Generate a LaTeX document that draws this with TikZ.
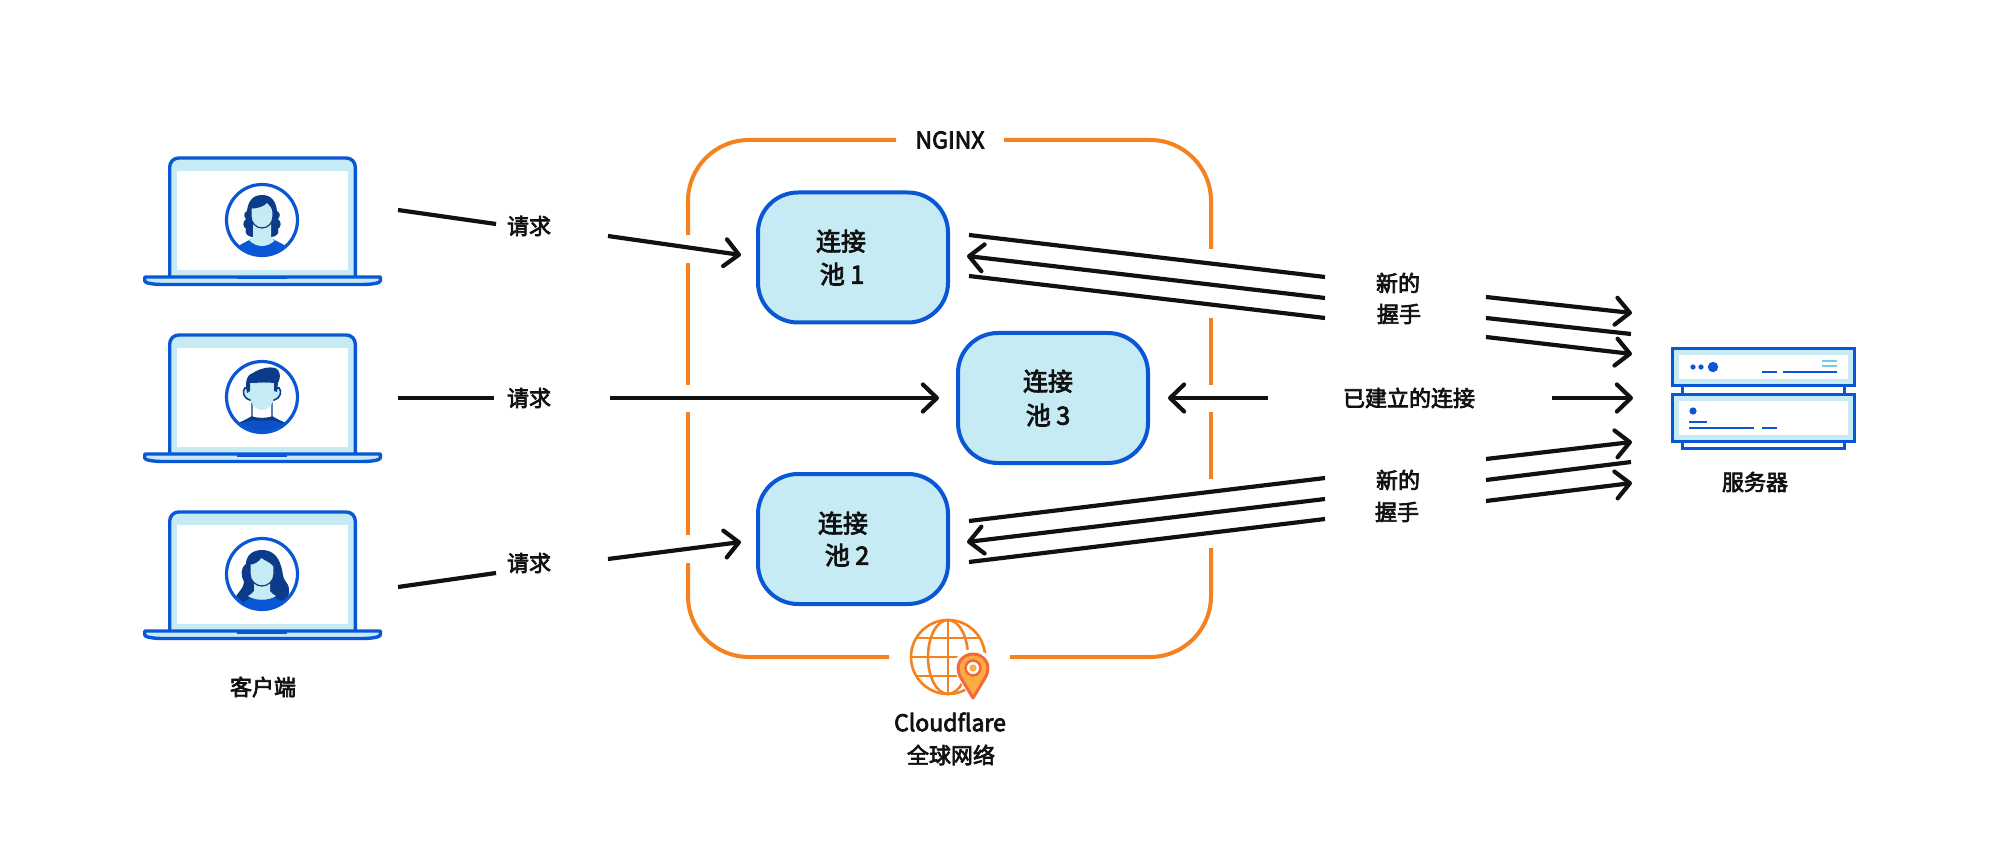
\documentclass[tikz,border=0pt]{standalone}
\usepackage{fontspec}
\setmainfont[FakeBold=3.2]{Noto Sans CJK SC}
\usetikzlibrary{arrows.meta}
\definecolor{cfblue}{HTML}{0A57D6}
\definecolor{cflight}{HTML}{C6EBF5}
\definecolor{cforange}{HTML}{F6821F}
\definecolor{cfpin}{HTML}{FBAD41}
\definecolor{cfpinline}{HTML}{F4693B}
\definecolor{cfhair}{HTML}{0C3B8A}
\definecolor{cfsky}{HTML}{6ECCE8}
\definecolor{ink}{HTML}{111111}
\tikzset{
  wire/.style={draw=ink,line width=4.2pt},
  arrowwire/.style={wire,-{Straight Barb[length=14pt,width=27pt,round]}},
  pool/.style={draw=cfblue,fill=cflight,line width=4pt,rounded corners=40pt,minimum width=190pt,minimum height=130pt,inner sep=0pt,align=center,font=\fontsize{25pt}{35pt}\selectfont,text=ink},
  lbl/.style={font=\fontsize{22pt}{32pt}\selectfont,text=ink,align=center,inner sep=0pt},
  nginxline/.style={draw=cforange,line width=4pt,rounded corners=61pt},
  frame/.style={draw=cfblue,line width=3.4pt,line join=round},
  srv/.style={draw=cfblue,line width=3.4pt,fill=cflight},
  srvline/.style={draw=cfblue,line width=2.6pt},
  srvsky/.style={draw=cfsky,line width=2.6pt},
  globe/.style={draw=cforange,line width=2.6pt},
}
\newcommand{\laptopframe}{%
  \draw[frame,fill=cflight,rounded corners=9pt] (169.7,278) -- (169.7,158) -- (355.3,158) -- (355.3,278);
  \fill[white] (177,171) rectangle (348,270);
  \draw[frame,fill=cflight] (144.7,277) -- (380.3,277) -- (380.3,281) .. controls (380.3,283) and (372,284.5) .. (362,284.5) -- (163,284.5) .. controls (153,284.5) and (144.7,283) .. (144.7,281) -- cycle;
  \draw[draw=cfblue,line width=3pt] (237,278) -- (287,278);
  \fill[white] (262,220) circle[radius=36pt];
}
\newcommand{\ring}{\draw[draw=cfblue,line width=3.2pt] (0,0) circle[radius=35.5pt];}
\begin{document}
\begin{tikzpicture}[x=1pt,y=-1pt]
\useasboundingbox (0,0) rectangle (2000,850);
\fill[white] (0,0) rectangle (2000,850);

% NGINX outline, in pieces around crossing arrows
\draw[nginxline] (688,235) -- (688,140) -- (896,140);
\draw[nginxline] (688,263) -- (688,385);
\draw[nginxline] (688,412) -- (688,535);
\draw[nginxline] (688,563) -- (688,657) -- (889,657);
\draw[nginxline] (1004,140) -- (1211,140) -- (1211,249);
\draw[nginxline] (1211,318) -- (1211,385);
\draw[nginxline] (1211,412) -- (1211,479);
\draw[nginxline] (1211,548) -- (1211,657) -- (1010,657);

% laptops
\begin{scope}\laptopframe
 \begin{scope}[shift={(262,220)}]
  \begin{scope}\clip (0,0) circle[radius=35pt];
   \fill[cfhair] (0,-25) .. controls (-10,-25) and (-14,-18) .. (-15,-9) .. controls (-19,-7) and (-18,-3) .. (-16,-1) .. controls (-20,2) and (-19,7) .. (-16,9) .. controls (-18,13) and (-14,17) .. (-9,17) -- (9,17) .. controls (14,17) and (18,13) .. (16,9) .. controls (19,7) and (20,2) .. (16,-1) .. controls (18,-3) and (19,-7) .. (15,-9) .. controls (14,-18) and (10,-25) .. (0,-25) -- cycle;
   \fill[cfblue] (-24,26) -- (-9,18) .. controls (-5,26) and (5,26) .. (9,18) -- (24,26) -- (26,40) -- (-26,40) -- cycle;
   \fill[cflight] (-9,2) -- (9,2) -- (9,17) .. controls (10,19) and (12,20) .. (13,20) .. controls (6,28) and (-6,28) .. (-13,20) .. controls (-12,20) and (-10,19) .. (-9,17) -- cycle;
   \draw[cfhair,line width=1.2pt,fill=cflight] (-11,-12) .. controls (-5,-12) and (2,-14) .. (5,-18) .. controls (8,-15) and (11,-12) .. (11,-8) -- (11,-4) .. controls (11,3) and (6,8) .. (0,8) .. controls (-6,8) and (-11,3) .. (-11,-4) -- cycle;
  \end{scope}
  \ring
 \end{scope}
\end{scope}

\begin{scope}[shift={(0,177)}]\laptopframe
 \begin{scope}[shift={(262,220)}]
  \begin{scope}\clip (0,0) circle[radius=35pt];
   \fill[cfblue!80!cfhair] (-24,26) -- (-10,20) .. controls (-5,22) and (5,22) .. (10,20) -- (24,26) -- (26,40) -- (-26,40) -- cycle;
   \fill[cfhair] (-24,27) -- (-10,19) -- (10,19) -- (24,27) -- (10,23) .. controls (5,24) and (-5,24) .. (-10,23) -- cycle;
   \draw[cfhair,line width=1.4pt,fill=white] (-10,2) -- (-10,20) .. controls (-5,22) and (5,22) .. (10,20) -- (10,2);
   \draw[cfhair,line width=1.6pt,fill=cflight] (-17,-9) .. controls (-20,-6) and (-19,1) .. (-12,3) -- (12,3) .. controls (19,1) and (20,-6) .. (17,-9) -- cycle;
   \fill[cflight] (-12,-14) -- (12,-14) -- (12,0) .. controls (12,7) and (6,13) .. (0,13) .. controls (-6,13) and (-12,7) .. (-12,0) -- cycle;
   \fill[cfhair] (-15,-4) .. controls (-17,-14) and (-16,-22) .. (-9,-24) .. controls (-2,-29) and (12,-32) .. (16,-27) .. controls (19,-23) and (18,-18) .. (16,-14) -- (15,-5) -- (12,-6) -- (12,-14) .. controls (2,-15) and (-6,-14) .. (-12,-14) -- (-12,-6) -- cycle;
  \end{scope}
  \ring
 \end{scope}
\end{scope}

\begin{scope}[shift={(0,354)}]\laptopframe
 \begin{scope}[shift={(262,220)}]
  \begin{scope}\clip (0,0) circle[radius=35pt];
   \fill[cfhair] (0,-24) .. controls (-10,-24) and (-16,-18) .. (-16,-10) .. controls (-22,-6) and (-21,2) .. (-18,8) .. controls (-18,14) and (-24,18) .. (-27,24) -- (-20,30) -- (22,28) .. controls (28,22) and (29,14) .. (24,8) .. controls (20,4) and (21,-4) .. (19,-8) .. controls (16,-18) and (10,-24) .. (0,-24) -- cycle;
   \fill[cfblue] (-18,28) -- (-9,22) .. controls (-4,26) and (4,26) .. (9,22) -- (20,27) -- (26,40) -- (-26,40) -- cycle;
   \fill[cflight] (-8,4) -- (8,4) -- (8,17) .. controls (9,19) and (12,21) .. (14,22) .. controls (6,27) and (-6,27) .. (-14,22) .. controls (-12,21) and (-9,19) .. (-8,17) -- cycle;
   \draw[cfhair,line width=1.2pt,fill=cflight] (-12,-10) .. controls (-8,-10) and (-3,-13) .. (-1,-17) .. controls (3,-14) and (9,-12) .. (12,-8) -- (12,0) .. controls (12,7) and (6,12) .. (0,12) .. controls (-6,12) and (-12,7) .. (-12,0) -- cycle;
  \end{scope}
  \ring
 \end{scope}
\end{scope}
\node[lbl] (clients) at (263,687) {客户端};

% request labels
\node[lbl] (req1) at (529,226) {请求};
\node[lbl] (req2) at (529,398) {请求};
\node[lbl] (req3) at (529,563) {请求};

% pools
\node[pool] (pool1) at (853,257.5) {\hspace*{-24pt}连接\\[-2pt]\hspace*{-22pt}池 1};
\node[pool] (pool2) at (853,539) {\hspace*{-20pt}连接\\[-3pt]\hspace*{-12pt}池 2};
\node[pool] (pool3) at (1053,398) {\hspace*{-10pt}连接\\[-1pt]\hspace*{-10pt}池 3};

\node[font=\fontsize{23pt}{26pt}\selectfont,text=ink,inner sep=0pt] (nginx) at (950,140) {NGINX};

% client side connectors
\coordinate (a1s) at (398,210); \coordinate (a1e) at (496,224);
\coordinate (b1s) at (608,236); \coordinate (b1e) at (741,255);
\coordinate (a2s) at (398,398); \coordinate (a2e) at (494,398);
\coordinate (b2s) at (610,398); \coordinate (b2e) at (939,398);
\coordinate (a3s) at (398,587); \coordinate (a3e) at (496,573);
\coordinate (b3s) at (608,559); \coordinate (b3e) at (741,542);
\draw[wire] (a1s) -- (a1e); \draw[arrowwire] (b1s) -- (b1e);
\draw[wire] (a2s) -- (a2e); \draw[arrowwire] (b2s) -- (b2e);
\draw[wire] (a3s) -- (a3e); \draw[arrowwire] (b3s) -- (b3e);

% pool 1 to handshake
\coordinate (c1a) at (1325,277); \coordinate (c1b) at (969,235);
\coordinate (c2a) at (1325,298); \coordinate (c2b) at (967,256);
\coordinate (c3a) at (1325,318); \coordinate (c3b) at (969,276);
\draw[wire] (c1a) -- (c1b); \draw[arrowwire] (c2a) -- (c2b); \draw[wire] (c3a) -- (c3b);

\coordinate (d1a) at (1486,297); \coordinate (d1b) at (1632,313);
\coordinate (d2a) at (1486,318); \coordinate (d2b) at (1631,334);
\coordinate (d3a) at (1486,337); \coordinate (d3b) at (1632,354);
\draw[arrowwire] (d1a) -- (d1b); \draw[wire] (d2a) -- (d2b); \draw[arrowwire] (d3a) -- (d3b);

% established
\coordinate (e1a) at (1268,398); \coordinate (e1b) at (1168,398);
\coordinate (e2a) at (1552,398); \coordinate (e2b) at (1633,398);
\draw[arrowwire] (e1a) -- (e1b); \draw[arrowwire] (e2a) -- (e2b);

% pool 2 to handshake
\coordinate (f1a) at (1325,478); \coordinate (f1b) at (969,521);
\coordinate (f2a) at (1325,499); \coordinate (f2b) at (967,542);
\coordinate (f3a) at (1325,519); \coordinate (f3b) at (969,562);
\draw[wire] (f1a) -- (f1b); \draw[arrowwire] (f2a) -- (f2b); \draw[wire] (f3a) -- (f3b);

\coordinate (g1a) at (1486,459); \coordinate (g1b) at (1632,442);
\coordinate (g2a) at (1486,480); \coordinate (g2b) at (1631,462);
\coordinate (g3a) at (1486,501); \coordinate (g3b) at (1632,483);
\draw[arrowwire] (g1a) -- (g1b); \draw[wire] (g2a) -- (g2b); \draw[arrowwire] (g3a) -- (g3b);

\node[lbl] (hs1a) at (1398,283) {新的};
\node[lbl] (hs1b) at (1399,314) {握手};
\node[lbl] (est) at (1409,398) {已建立的连接};
\node[lbl] (hs2a) at (1398,480) {新的};
\node[lbl] (hs2b) at (1397,512) {握手};

% server
\draw[draw=cfblue,line width=3pt] (1682,385) -- (1682,395) (1844,385) -- (1844,395);
\draw[draw=cfblue,line width=3pt] (1682,443) -- (1682,448.5) -- (1844,448.5) -- (1844,443);
\draw[srv] (1672.7,348.7) rectangle (1854.3,385.5);
\fill[white] (1679,355) rectangle (1848,379);
\draw[srv] (1672.7,394.7) rectangle (1854.3,441.5);
\fill[white] (1679,401) rectangle (1848,435);
\fill[cfblue] (1693,367) circle[radius=2.6pt] (1701,367) circle[radius=2.6pt] (1713,367) circle[radius=5.2pt] (1693,411) circle[radius=3.6pt];
\draw[srvline] (1762,372) -- (1777,372) (1783,372) -- (1837,372) (1689,422) -- (1707,422) (1689,428) -- (1754,428) (1762,428) -- (1777,428);
\draw[srvsky] (1822,361) -- (1837,361) (1822,366) -- (1837,366);
\node[lbl] (servers) at (1755,482) {服务器};

% globe
\begin{scope}[shift={(948,657)}]
 \draw[globe] (0,0) circle[radius=37pt];
 \draw[globe] (0,0) ellipse[x radius=20pt,y radius=37pt];
 \draw[globe] (0,-37) -- (0,37) (-32,-19) -- (32,-19) (-37,0) -- (37,0) (-32,19) -- (32,19);
\end{scope}
\begin{scope}[shift={(973,669)}]
 \fill[white] (0,33) -- (-15,9) .. controls (-24,-8) and (-13,-20) .. (0,-20) .. controls (13,-20) and (24,-8) .. (15,9) -- cycle;
 \draw[draw=cfpinline,line width=3pt,fill=cfpin,line join=round] (0,29) -- (-12,9) .. controls (-20,-5) and (-10,-15) .. (0,-15) .. controls (10,-15) and (20,-5) .. (12,9) -- cycle;
 \draw[draw=cfpinline,line width=2.6pt,fill=white] (0,-1) circle[radius=7.5pt];
 \fill[cfpin] (0,-1) circle[radius=3.6pt];
\end{scope}
\node[font=\fontsize{23pt}{26pt}\selectfont,text=ink,inner sep=0pt] (cf) at (950,722) {Cloudflare};
\node[lbl] (net) at (951,755) {全球网络};
\end{tikzpicture}
\end{document}
